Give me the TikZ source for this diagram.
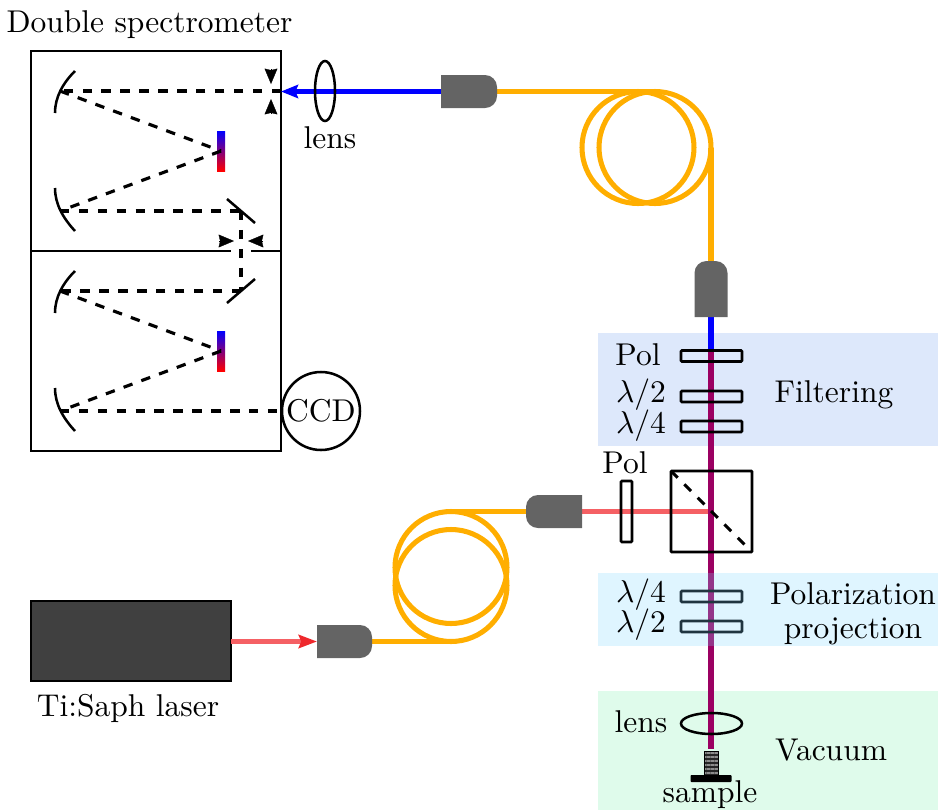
\documentclass[tikz,border=0pt]{standalone}
\usepackage{amsmath}
\usepackage{tikz}
\usetikzlibrary{positioning,arrows.meta,shapes.geometric,patterns.meta}
\usepackage{xcolor}

\definecolor{fibre}{RGB}{255,174,0}
\definecolor{collgray}{RGB}{100,100,100}
\definecolor{beamred}{RGB}{245,96,100}
\definecolor{tipred}{RGB}{238,40,44}
\definecolor{beammix}{RGB}{155,0,98}
\definecolor{filterbg}{RGB}{221,232,251}
\definecolor{projbg}{RGB}{128,214,255}
\definecolor{vacbg}{RGB}{223,251,235}
\newcommand{\px}{0.3175pt}

\begin{document}
\begin{tikzpicture}[
  x=\px, y=-\px,
  optic/.style={draw, line width=0.8pt, rounded corners=0.3pt, inner sep=0pt, outer sep=0pt},
  plate/.style={optic, minimum width=61*\px, minimum height=11*\px},
  lensnode/.style={draw, ellipse, line width=0.8pt, inner sep=0pt, outer sep=0pt},
  collbox/.style={inner sep=0pt, outer sep=0pt},
  collfill/.style={fill=collgray},
  fibreline/.style={draw=fibre, line width=1.6pt},
  bluebeam/.style={draw=blue, line width=1.6pt},
  redbeam/.style={draw=beamred, line width=1.6pt},
  mixbeam/.style={draw=beammix, line width=1.6pt},
  ray/.style={dashed, line width=1pt},
  slit/.style={line width=0.1pt, -{Stealth[length=4.9pt, width=4.1pt, inset=0.5pt]}},
  mirror/.style={line width=0.8pt},
  grating/.style={minimum width=8*\px, minimum height=40*\px, inner sep=0pt, outer sep=0pt, top color=blue, bottom color=red}
]
\useasboundingbox (0,0) rectangle (938,810);

% backgrounds
\fill[filterbg] (598,333) rectangle (938,446);
\fill[vacbg] (598,691) rectangle (938,810);

% spectrometer
\node[draw, line width=0.9pt, inner sep=0pt, outer sep=0pt, minimum width=250*\px, minimum height=400*\px] (spec) at (156,251) {};
\node (title) at (149.5,24.5) {Double spectrometer};
\coordinate (wallL) at (231,251);
\coordinate (wallR) at (251,251);
\draw[line width=0.9pt] (spec.west) -- (wallL);
\draw[line width=0.9pt] (wallR) -- (spec.east);
\node[circle, draw, line width=0.8pt, inner sep=0pt, outer sep=0pt, minimum size=78*\px] (ccd) at (321,411) {CCD};

\coordinate (m1) at (60,91);
\coordinate (m2) at (60,211);
\coordinate (m3) at (60,291);
\coordinate (m4) at (60,411);
\coordinate (s1) at (241,211);
\coordinate (s2) at (241,291);
\coordinate (slitA) at (281,91);
\coordinate (inlet) at (281,91.5);
\node[grating] (g1) at (221,151) {};
\node[grating] (g2) at (221,351) {};

% mirrors
\draw[mirror] (75,71) .. controls (63,83) and (55,97) .. (55,113);
\draw[mirror] (55,188) .. controls (55,204) and (63,218) .. (75,231);
\draw[mirror] (75,271) .. controls (63,283) and (55,297) .. (55,313);
\draw[mirror] (55,388) .. controls (55,404) and (63,418) .. (75,431);
\draw[mirror] (227,199) -- (255,223);
\draw[mirror] (255,279) -- (227,303);

% rays
\draw[ray] (slitA) -- (m1);
\draw[ray] (m1) -- (g1.center);
\draw[ray] (g1.center) -- (m2);
\draw[ray] (m2) -- (s1);
\draw[ray] (s1) -- (s2);
\draw[ray] (s2) -- (m3);
\draw[ray] (m3) -- (g2.center);
\draw[ray] (g2.center) -- (m4);
\draw[ray] (m4) -- (ccd.west);

% slits
\draw[slit] (271,69) -- (271,84);
\draw[slit] (271,113) -- (271,99);
\draw[slit] (219,241) -- (234,241);
\draw[slit] (263,241) -- (248,241);

% fibres
\node[collbox, minimum width=56*\px, minimum height=33*\px] (collA) at (469,91.5) {};
\node[collbox, minimum width=33*\px, minimum height=56*\px] (collB) at (711,289) {};
\node[collbox, minimum width=56*\px, minimum height=33*\px] (collC) at (554,511.5) {};
\node[collbox, minimum width=55*\px, minimum height=33*\px] (collD) at (344.5,641.5) {};
\coordinate (loopA) at (655,91.5);
\coordinate (loopB) at (711,147.5);
\coordinate (loopC) at (451,511.5);
\coordinate (loopD) at (451,641.5);
\draw[fibreline] (collA.east) -- (loopA);
\draw[fibreline] (638,147.5) circle (56);
\draw[fibreline] (655,147.5) circle (56);
\draw[fibreline] (loopB) -- (collB.north);
\draw[fibreline] (collC.west) -- (loopC);
\draw[fibreline] (451,567.5) circle (56);
\draw[fibreline] (451,585.5) circle (56);
\draw[fibreline] (loopD) -- (collD.east);

% beams
\node[draw, fill=black!75, line width=0.4pt, inner sep=0pt, outer sep=0pt, minimum width=200*\px, minimum height=80*\px] (laser) at (131,641) {};
\node (laserlabel) at (128,708) {Ti:Saph laser};
\coordinate (cross) at (711,511.5);
\coordinate (plateTop) at (711,351);
\node[collbox] (stage) at (711,751) {};
\draw[bluebeam] (collB.south) -- (plateTop);
\draw[redbeam] (collC.east) -- (cross);
\draw[mixbeam] (plateTop) -- (stage);
\draw[redbeam, -{Stealth[length=5.8pt, width=4.2pt, inset=0.8pt, color=tipred]}] (laser.east |- collD.west) -- (collD.west);
\draw[bluebeam, -{Stealth[length=5.4pt, width=4.2pt, inset=0.8pt]}] (collA.west) -- (inlet);

% collimators
\fill[collfill] (collA.north west) [rounded corners=3.8pt] -- (collA.north east) -- (collA.south east) [sharp corners] -- (collA.south west) -- cycle;
\fill[collfill] (collB.south west) [rounded corners=3.8pt] -- (collB.north west) -- (collB.north east) [sharp corners] -- (collB.south east) -- cycle;
\fill[collfill] (collC.north east) [rounded corners=3.8pt] -- (collC.north west) -- (collC.south west) [sharp corners] -- (collC.south east) -- cycle;
\fill[collfill] (collD.north west) [rounded corners=3.8pt] -- (collD.north east) -- (collD.south east) [sharp corners] -- (collD.south west) -- cycle;

% optics
\node[lensnode, minimum width=20*\px, minimum height=60*\px] (lensA) at (325,91) {};
\node (lensAlabel) at (330,138) {lens};
\node[plate] (polF) at (711.5,356) {};
\node[plate] (hwpF) at (711.5,396.5) {};
\node[plate] (qwpF) at (711.5,426.5) {};
\node[plate] (qwpP) at (711.5,596.5) {};
\node[plate] (hwpP) at (711.5,626.5) {};
\node[optic, minimum width=11*\px, minimum height=61*\px] (polIn) at (626.5,511.5) {};
\node[optic, line width=0.9pt, minimum width=81*\px, minimum height=81*\px] (cube) at (711.5,511.5) {};
\draw[ray] (cube.north west) -- (cube.south east);
\node[lensnode, minimum width=61*\px, minimum height=21*\px] (lensB) at (711.5,723.5) {};

% sample
\node[draw, line width=0.3pt, inner sep=0pt, outer sep=0pt, minimum width=14*\px, minimum height=24*\px, preaction={fill=black!85}, pattern={Lines[angle=0, distance=1.3pt, line width=0.6pt]}, pattern color=black!45] (post) at (711,763) {};
\node[fill=black, rounded corners=0.3pt, inner sep=0pt, outer sep=0pt, minimum width=41*\px, minimum height=7*\px, below=0pt of post] (base) {};

% projection box sits over the beam
\fill[projbg, opacity=0.25] (598,573) rectangle (938,646);

% labels
\node (polFlabel) at (638,355) {Pol};
\node (hwpFlabel) at (641,395) {$\lambda/2$};
\node (qwpFlabel) at (641,426) {$\lambda/4$};
\node (filtering) at (834,395) {Filtering};
\node (polInlabel) at (625,463) {Pol};
\node (qwpPlabel) at (641,595) {$\lambda/4$};
\node (hwpPlabel) at (641,625) {$\lambda/2$};
\node[align=center] (projection) at (853,614) {Polarization\\[-1.2pt]projection};
\node (lensBlabel) at (641,722) {lens};
\node (vacuum) at (831,750) {Vacuum};
\node (samplelabel) at (710,795) {sample};
\end{tikzpicture}
\end{document}
